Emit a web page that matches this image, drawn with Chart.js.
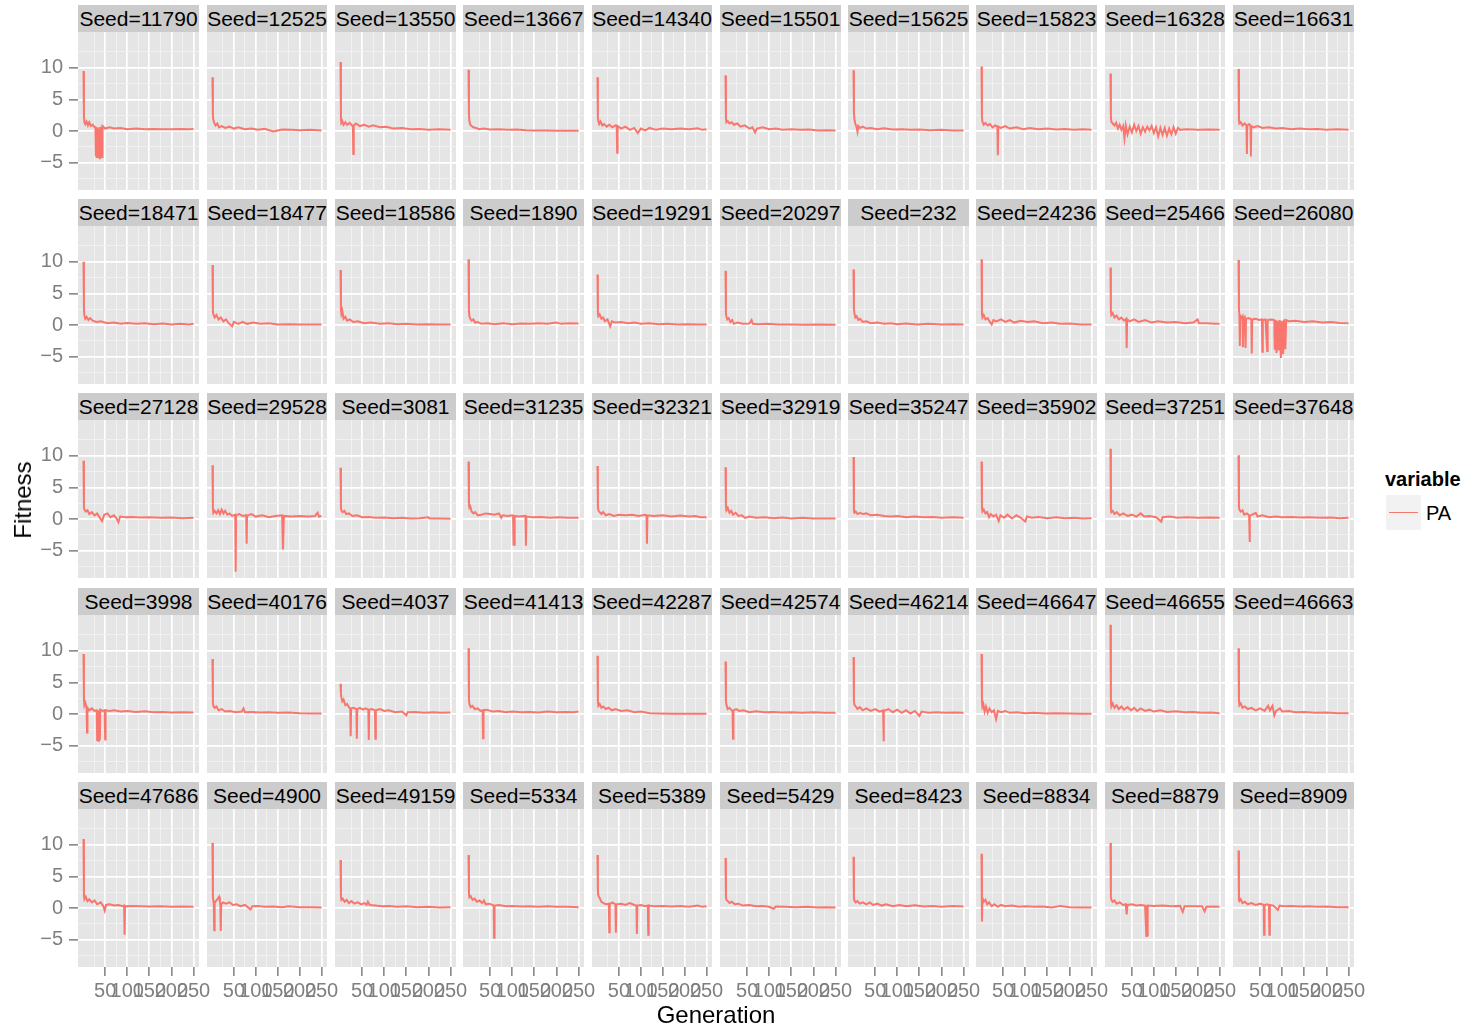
<!DOCTYPE html>
<html>
<head>
<meta charset="utf-8">
<script src="https://cdn.jsdelivr.net/npm/chart.js@4.4.1/dist/chart.umd.min.js"></script>
<style>
  body { margin: 0; background: #fff; font-family: 'Liberation Sans', Arial, sans-serif; }
  #plot { position: relative; width: 1470px; height: 1032px; overflow: hidden; }
  #plot canvas { position: absolute; }
  .strip { position: absolute; background: #cccccc; color: #000; font-size: 21px; text-align: center; white-space: nowrap; }
  .axis-title { position: absolute; font-size: 24px; color: #000; white-space: nowrap; }
</style>
</head>
<body>
<div id="plot"></div>
<script>
// Fitness per generation, one facet per seed
const seeds = [
  '11790', '12525', '13550', '13667', '14340', '15501', '15625', '15823', '16328', '16631',
  '18471', '18477', '18586', '1890', '19291', '20297', '232', '24236', '25466', '26080',
  '27128', '29528', '3081', '31235', '32321', '32919', '35247', '35902', '37251', '37648',
  '3998', '40176', '4037', '41413', '42287', '42574', '46214', '46647', '46655', '46663',
  '47686', '4900', '49159', '5334', '5389', '5429', '8423', '8834', '8879', '8909'
];

// [generation, PA, generation, PA, ...] for each seed, same order as seeds
const paTrace = [
  [1,9.5, 2,2.2, 3,1.4, 5,1.1, 8,1.5, 11,0.9, 14,1.4, 18,0.8, 22,1.0, 26,0.6, 28,0.6, 29,-4.0, 30,0.5, 31,-4.1, 32,-4.1, 33,0.6, 34,-4.0, 35,-4.1, 36,0.4, 37,-4.1, 38,-4.0, 39,0.7, 40,-4.1, 41,-4.0, 42,0.6, 43,-4.1, 44,0.8, 50,0.4, 60,0.6, 70,0.4, 85,0.5, 100,0.3, 120,0.4, 140,0.3, 160,0.35, 180,0.3, 200,0.3, 220,0.35, 240,0.3, 250,0.35],
  [1,8.5, 2,2.3, 3,1.8, 5,1.3, 8,0.9, 12,1.2, 16,0.6, 22,0.8, 30,0.5, 40,0.7, 50,0.4, 60,0.6, 75,0.3, 90,0.4, 105,0.2, 120,0.35, 140,-0.05, 160,0.25, 180,0.2, 200,0.15, 225,0.2, 250,0.1],
  [1,10.9, 2,2.0, 3,1.3, 5,1.6, 8,1.0, 12,1.4, 16,1.0, 22,1.3, 27,0.9, 29,0.9, 30,-3.6, 31,0.9, 36,1.2, 45,0.8, 55,1.0, 65,0.7, 75,0.9, 90,0.6, 105,0.7, 120,0.4, 140,0.5, 160,0.3, 180,0.35, 200,0.2, 225,0.3, 250,0.2],
  [1,9.7, 2,2.5, 3,1.6, 5,1.0, 8,0.8, 12,0.6, 18,0.5, 25,0.3, 35,0.4, 50,0.25, 70,0.3, 90,0.2, 110,0.25, 130,0.15, 150,0.1, 175,0.1, 200,0.05, 225,0.05, 250,0.05],
  [1,8.5, 2,2.0, 3,1.6, 5,1.1, 8,1.5, 12,0.9, 16,1.1, 22,0.7, 28,1.0, 35,0.6, 42,0.9, 45,0.8, 46,-3.4, 47,0.8, 55,0.4, 65,0.7, 75,0.2, 85,0.5, 93,-0.3, 100,0.4, 110,0.1, 120,0.5, 135,0.2, 150,0.4, 170,0.3, 190,0.4, 210,0.3, 230,0.45, 240,0.2, 250,0.3],
  [1,8.8, 2,2.0, 3,1.4, 6,1.6, 10,1.2, 15,1.4, 20,1.0, 28,1.2, 35,0.7, 45,0.9, 55,0.4, 62,0.6, 68,-0.2, 72,0.4, 85,0.6, 100,0.3, 115,0.4, 130,0.2, 150,0.3, 170,0.2, 190,0.25, 210,0.1, 230,0.15, 250,0.1],
  [1,9.6, 2,3.0, 3,1.9, 5,1.2, 8,0.6, 10,-0.1, 12,0.8, 16,0.5, 22,0.7, 30,0.4, 40,0.5, 55,0.3, 70,0.45, 90,0.25, 110,0.3, 130,0.2, 150,0.25, 175,0.15, 200,0.2, 225,0.1, 250,0.1],
  [1,10.2, 2,2.2, 3,1.5, 6,1.0, 10,1.3, 15,0.9, 20,1.1, 26,0.6, 32,0.9, 37,0.7, 38,-3.8, 39,0.7, 45,0.5, 55,0.8, 65,0.4, 80,0.6, 95,0.3, 110,0.5, 130,0.3, 150,0.4, 170,0.25, 190,0.35, 210,0.2, 230,0.3, 250,0.2],
  [1,9.1, 2,2.2, 3,1.5, 6,1.2, 10,0.9, 14,1.3, 18,0.4, 22,1.0, 26,0.2, 30,0.8, 33,-1.1, 36,0.9, 40,-0.5, 45,0.7, 50,-0.2, 55,1.0, 60,0.0, 65,0.8, 70,-0.4, 75,0.6, 80,-0.1, 85,0.7, 90,0.1, 95,0.8, 100,-0.3, 105,0.6, 110,-0.8, 115,0.5, 120,-0.6, 125,0.5, 130,-0.7, 135,0.4, 140,-0.5, 145,0.6, 150,-0.4, 155,0.5, 160,0.2, 175,0.3, 200,0.2, 225,0.25, 250,0.2],
  [1,9.8, 2,1.8, 3,1.2, 6,1.4, 10,0.9, 15,1.2, 19,0.9, 20,-3.6, 21,0.9, 25,1.1, 28,0.9, 29,-4.0, 30,0.8, 35,0.6, 45,0.8, 55,0.5, 70,0.6, 85,0.4, 100,0.5, 120,0.3, 140,0.4, 160,0.3, 180,0.35, 200,0.2, 225,0.3, 250,0.2],

  [1,10.0, 2,2.6, 3,1.5, 5,1.0, 8,1.3, 12,0.8, 16,1.1, 22,0.7, 30,0.5, 40,0.6, 55,0.3, 70,0.4, 85,0.2, 100,0.35, 120,0.2, 140,0.3, 160,0.15, 180,0.25, 200,0.1, 220,0.2, 240,0.1, 250,0.2],
  [1,9.5, 2,2.2, 3,1.7, 6,1.2, 10,1.6, 15,0.9, 20,1.2, 26,0.6, 32,0.9, 38,0.3, 46,-0.2, 50,0.5, 60,0.2, 70,0.5, 80,0.2, 95,0.4, 110,0.2, 130,0.3, 150,0.1, 175,0.15, 200,0.1, 225,0.1, 250,0.1],
  [1,8.7, 2,2.4, 3,1.8, 5,2.3, 8,1.0, 12,1.3, 16,0.7, 22,0.9, 30,0.5, 40,0.6, 55,0.3, 70,0.4, 90,0.2, 110,0.3, 130,0.15, 150,0.2, 175,0.1, 200,0.15, 225,0.1, 250,0.1],
  [1,10.4, 2,2.3, 3,1.4, 5,1.0, 8,0.7, 12,0.9, 16,0.4, 22,0.5, 30,0.2, 45,0.3, 60,0.15, 80,0.3, 100,0.15, 120,0.25, 140,0.2, 160,0.3, 180,0.2, 200,0.4, 210,0.2, 230,0.3, 250,0.25],
  [1,8.0, 2,1.8, 3,1.4, 6,1.7, 10,1.0, 14,1.2, 18,0.6, 24,0.9, 30,-0.2, 34,0.6, 42,0.4, 55,0.5, 70,0.3, 85,0.4, 100,0.2, 120,0.3, 140,0.15, 160,0.2, 185,0.1, 210,0.15, 230,0.1, 250,0.1],
  [1,8.6, 2,1.8, 3,1.4, 5,0.9, 8,1.1, 12,0.5, 16,0.8, 20,0.2, 28,0.4, 40,0.2, 55,0.25, 60,0.8, 63,0.2, 75,0.15, 95,0.2, 120,0.1, 150,0.1, 180,0.05, 210,0.1, 250,0.05],
  [1,8.8, 2,2.5, 3,1.9, 5,1.2, 8,1.4, 12,0.8, 16,1.0, 22,0.5, 30,0.6, 40,0.3, 55,0.4, 70,0.2, 85,0.3, 100,0.15, 120,0.25, 145,0.1, 170,0.2, 200,0.1, 225,0.15, 250,0.1],
  [1,10.4, 2,1.8, 3,1.2, 6,1.6, 10,0.9, 15,1.1, 20,0.5, 24,0.1, 28,0.8, 35,0.6, 45,0.9, 55,0.5, 65,0.8, 75,0.4, 90,0.7, 105,0.5, 120,0.6, 140,0.3, 160,0.4, 180,0.2, 200,0.25, 225,0.1, 250,0.1],
  [1,9.1, 2,2.2, 3,1.6, 6,1.9, 10,1.2, 15,1.5, 20,0.9, 26,1.2, 32,0.7, 37,1.0, 38,-3.6, 39,0.9, 45,0.6, 55,0.9, 65,0.5, 80,0.8, 95,0.4, 110,0.6, 130,0.4, 150,0.5, 170,0.3, 190,0.4, 200,0.9, 203,0.3, 220,0.3, 240,0.2, 250,0.2],
  [1,10.3, 2,2.5, 3,1.6, 4,-3.3, 5,1.5, 8,1.2, 10,1.4, 11,-3.5, 12,1.1, 15,1.3, 17,-3.6, 18,1.0, 24,1.1, 30,0.9, 31,-4.5, 32,0.9, 40,1.0, 48,0.8, 54,0.9, 55,-4.2, 56,0.8, 62,0.9, 66,-4.1, 67,0.8, 75,0.9, 82,0.8, 83,-3.9, 85,0.8, 87,-4.4, 89,0.7, 92,-4.0, 94,0.8, 97,-5.2, 99,0.7, 102,-4.6, 104,0.9, 107,-3.8, 109,0.8, 115,0.6, 130,0.7, 150,0.5, 170,0.6, 190,0.4, 210,0.5, 230,0.35, 250,0.3],

  [1,9.2, 2,1.8, 3,1.5, 6,1.2, 10,1.4, 14,0.8, 20,1.1, 26,0.6, 32,0.9, 38,0.2, 43,-0.3, 48,0.7, 55,0.9, 62,0.3, 70,0.6, 76,0.1, 80,-0.5, 84,0.4, 95,0.3, 110,0.35, 130,0.25, 150,0.3, 175,0.2, 200,0.25, 225,0.15, 250,0.2],
  [1,8.5, 2,1.8, 3,1.0, 6,1.3, 10,0.9, 14,1.4, 18,0.8, 22,1.5, 26,0.9, 30,1.3, 35,0.7, 40,0.9, 46,0.5, 53,0.7, 54,-8.3, 55,0.6, 62,0.8, 70,0.5, 78,0.6, 79,-3.9, 80,0.5, 90,0.8, 100,0.4, 115,0.6, 130,0.3, 145,0.5, 160,0.6, 162,-4.8, 164,0.5, 180,0.4, 200,0.5, 220,0.4, 235,0.5, 241,1.0, 244,0.4, 250,0.5],
  [1,8.1, 2,1.8, 3,1.4, 6,1.1, 10,1.3, 14,0.8, 20,0.9, 28,0.5, 38,0.6, 50,0.3, 65,0.35, 80,0.2, 100,0.25, 120,0.15, 140,0.2, 160,0.1, 180,0.15, 200,0.3, 203,0.1, 225,0.1, 250,0.05],
  [1,9.1, 2,2.3, 3,1.8, 5,2.0, 8,1.2, 12,0.9, 16,1.1, 22,0.6, 30,0.7, 40,0.9, 50,0.8, 60,0.7, 70,0.9, 75,0.2, 78,0.6, 90,0.5, 100,0.6, 102,0.5, 103,-4.2, 104,0.5, 105,-4.2, 106,0.5, 115,0.4, 130,0.5, 131,-4.2, 132,0.4, 145,0.3, 165,0.35, 185,0.2, 205,0.3, 225,0.2, 250,0.2],
  [1,8.4, 2,2.0, 3,1.4, 6,1.1, 10,0.8, 14,1.1, 20,0.6, 28,0.8, 38,0.5, 50,0.7, 65,0.6, 80,0.7, 95,0.5, 110,0.7, 113,0.6, 114,-3.9, 115,0.6, 130,0.5, 150,0.6, 170,0.4, 190,0.55, 210,0.4, 225,0.5, 235,0.3, 250,0.3],
  [1,8.2, 2,2.0, 3,1.4, 6,1.8, 10,1.0, 14,1.3, 18,0.7, 24,1.0, 30,0.5, 38,0.6, 45,0.2, 55,0.4, 70,0.2, 90,0.3, 110,0.15, 130,0.25, 150,0.1, 175,0.2, 200,0.1, 225,0.1, 250,0.1],
  [1,9.8, 2,1.2, 3,1.0, 6,1.2, 10,0.8, 16,1.0, 22,0.8, 30,0.9, 40,0.6, 55,0.7, 70,0.5, 85,0.4, 100,0.5, 120,0.3, 140,0.4, 160,0.3, 180,0.35, 200,0.2, 225,0.3, 250,0.2],
  [1,9.1, 2,1.8, 3,1.2, 6,1.5, 10,0.9, 14,1.1, 18,0.3, 22,0.8, 28,0.4, 34,0.7, 40,-0.3, 44,0.6, 52,0.2, 60,0.7, 70,0.1, 80,0.6, 90,0.2, 100,-0.4, 104,0.4, 115,0.2, 130,0.35, 150,0.15, 170,0.3, 190,0.15, 210,0.2, 230,0.1, 250,0.15],
  [1,11.1, 2,1.6, 3,1.1, 6,1.3, 10,0.8, 15,1.1, 22,0.6, 30,0.9, 40,0.5, 50,0.7, 60,0.4, 70,0.9, 78,0.4, 90,0.5, 105,0.3, 117,-0.4, 120,0.3, 135,0.4, 155,0.2, 175,0.3, 200,0.2, 225,0.25, 250,0.2],
  [1,10.1, 2,1.9, 3,1.5, 6,1.2, 10,1.4, 14,0.7, 20,0.9, 25,0.6, 26,-3.6, 27,0.5, 32,0.7, 40,1.0, 44,0.4, 55,0.6, 70,0.3, 85,0.4, 100,0.3, 120,0.35, 140,0.25, 160,0.3, 185,0.2, 210,0.25, 230,0.15, 250,0.2],

  [1,9.5, 2,2.3, 3,1.4, 5,1.8, 8,1.0, 9,-2.9, 10,1.0, 14,0.6, 20,0.9, 26,0.5, 31,0.6, 32,-4.1, 33,0.5, 35,-4.2, 36,0.6, 38,-4.1, 39,0.7, 44,0.5, 49,0.6, 50,-4.0, 51,0.6, 60,0.5, 70,0.6, 85,0.4, 100,0.5, 120,0.35, 140,0.45, 160,0.3, 180,0.35, 200,0.25, 225,0.3, 250,0.25],
  [1,8.7, 2,1.8, 3,1.3, 6,1.0, 10,1.2, 15,0.6, 22,0.8, 30,0.4, 40,0.5, 55,0.3, 68,0.4, 72,0.9, 75,0.3, 90,0.35, 110,0.25, 130,0.3, 150,0.2, 175,0.25, 200,0.15, 225,0.1, 250,0.1],
  [1,4.8, 2,3.2, 3,2.6, 5,2.0, 8,2.3, 12,1.4, 16,1.6, 20,1.1, 23,0.9, 24,-3.5, 25,0.9, 30,1.0, 37,0.8, 38,-3.9, 39,0.8, 45,1.0, 52,0.7, 58,0.9, 64,0.7, 65,-4.1, 66,0.7, 72,0.8, 79,0.6, 80,-3.9, 81,0.6, 90,0.8, 100,0.5, 110,0.6, 125,0.3, 140,0.4, 150,-0.2, 153,0.3, 170,0.35, 190,0.2, 210,0.3, 230,0.2, 250,0.25],
  [1,10.4, 2,2.3, 3,1.6, 6,1.1, 10,1.3, 15,0.8, 22,0.9, 28,0.5, 33,0.6, 34,-3.8, 35,0.6, 42,0.7, 55,0.4, 70,0.5, 85,0.3, 100,0.4, 120,0.3, 140,0.35, 160,0.25, 180,0.4, 200,0.3, 220,0.35, 240,0.3, 250,0.4],
  [1,9.2, 2,1.8, 3,1.3, 6,1.6, 10,1.0, 14,1.2, 20,0.8, 26,1.0, 34,0.6, 42,0.8, 55,0.5, 70,0.6, 85,0.3, 100,0.4, 120,0.15, 140,0.1, 170,0.05, 200,0.05, 225,0.05, 250,0.05],
  [1,8.3, 2,2.0, 3,1.5, 6,0.8, 10,1.0, 15,0.6, 17,0.5, 18,-3.9, 19,0.6, 25,0.8, 32,0.5, 42,0.6, 55,0.3, 70,0.45, 90,0.3, 110,0.35, 130,0.25, 150,0.3, 175,0.2, 200,0.3, 225,0.2, 250,0.2],
  [1,9.0, 2,2.0, 3,1.5, 6,1.2, 10,0.8, 15,1.1, 22,0.6, 30,0.9, 40,0.5, 50,0.8, 60,0.4, 68,0.6, 69,-4.3, 70,0.5, 80,0.8, 90,0.3, 100,0.7, 110,0.2, 120,0.6, 130,0.1, 140,0.5, 150,-0.3, 155,0.4, 170,0.2, 190,0.3, 210,0.2, 230,0.25, 250,0.2],
  [1,9.5, 2,2.0, 3,1.2, 5,1.6, 8,0.4, 11,1.2, 15,0.2, 19,0.9, 24,0.3, 29,0.6, 34,-0.8, 38,0.5, 45,0.3, 55,0.5, 65,0.2, 80,0.3, 100,0.15, 120,0.2, 145,0.1, 170,0.15, 200,0.1, 225,0.05, 250,0.05],
  [1,14.1, 2,1.8, 3,1.2, 6,1.7, 10,1.0, 15,1.4, 20,0.8, 26,1.2, 32,0.7, 40,1.1, 48,0.6, 55,1.0, 62,0.5, 70,0.9, 80,0.5, 90,0.7, 100,0.4, 115,0.6, 130,0.35, 150,0.45, 170,0.3, 190,0.35, 210,0.2, 230,0.25, 250,0.15],
  [1,10.4, 2,2.1, 3,1.4, 6,1.7, 10,1.0, 15,1.2, 22,0.8, 30,1.0, 40,0.6, 50,0.9, 60,0.5, 68,1.3, 72,0.6, 78,1.3, 82,-0.2, 86,0.5, 95,0.9, 100,0.4, 115,0.5, 130,0.3, 150,0.35, 175,0.2, 200,0.25, 225,0.15, 250,0.15],

  [1,10.9, 2,2.0, 3,1.4, 6,1.8, 10,1.1, 14,1.4, 20,0.9, 26,1.2, 32,0.6, 40,0.9, 46,0.3, 49,-0.4, 52,0.5, 60,0.6, 70,0.4, 80,0.5, 90,0.3, 93,0.4, 94,-4.2, 95,0.3, 110,0.35, 130,0.3, 150,0.25, 175,0.3, 200,0.2, 225,0.25, 250,0.2],
  [1,10.3, 2,1.6, 3,1.2, 4,0.8, 5,-3.5, 6,0.8, 10,1.2, 14,1.6, 16,1.8, 18,1.0, 19,0.6, 20,-3.6, 21,0.6, 25,0.9, 32,0.7, 40,0.9, 48,0.5, 56,0.6, 65,0.3, 75,0.5, 88,-0.2, 92,0.3, 105,0.35, 120,0.2, 140,0.25, 160,0.15, 175,0.3, 200,0.15, 225,0.15, 250,0.1],
  [1,7.6, 2,1.8, 3,1.3, 6,1.5, 10,1.0, 15,1.3, 20,0.8, 26,1.1, 32,0.7, 40,0.9, 48,0.6, 55,0.8, 60,0.5, 63,1.0, 67,0.5, 80,0.4, 95,0.3, 110,0.35, 130,0.2, 150,0.3, 175,0.15, 200,0.2, 225,0.1, 250,0.15],
  [1,8.4, 2,2.3, 3,1.7, 6,1.9, 10,1.3, 15,1.5, 20,1.0, 26,1.2, 32,0.8, 36,1.2, 40,0.6, 48,0.7, 55,0.5, 58,0.4, 59,-4.7, 60,0.4, 70,0.5, 85,0.3, 100,0.35, 120,0.25, 140,0.3, 160,0.2, 180,0.3, 200,0.2, 225,0.2, 250,0.15],
  [1,8.4, 2,2.6, 3,2.0, 6,1.6, 10,1.0, 15,0.8, 20,0.6, 27,0.7, 28,-3.8, 29,0.6, 35,0.9, 42,0.6, 43,-3.9, 44,0.6, 55,0.7, 65,0.5, 75,0.8, 85,0.5, 90,0.4, 91,-4.1, 92,0.4, 100,0.5, 110,0.3, 116,0.4, 117,-4.2, 118,0.4, 130,0.3, 150,0.35, 170,0.25, 190,0.35, 210,0.2, 230,0.4, 240,0.2, 250,0.3],
  [1,7.9, 2,1.8, 3,1.3, 6,1.1, 10,0.8, 15,1.0, 22,0.6, 30,0.7, 40,0.4, 55,0.5, 70,0.3, 85,0.35, 100,0.2, 110,-0.1, 115,0.25, 135,0.2, 160,0.15, 185,0.2, 210,0.1, 230,0.15, 250,0.1],
  [1,8.1, 2,1.5, 3,1.2, 6,0.9, 10,1.1, 15,0.7, 22,0.9, 30,0.6, 38,0.9, 45,0.5, 55,0.7, 65,0.4, 75,0.6, 90,0.3, 105,0.5, 120,0.3, 140,0.45, 160,0.25, 180,0.35, 200,0.2, 225,0.35, 250,0.25],
  [1,8.6, 2,-2.1, 3,1.6, 6,1.0, 10,1.3, 14,0.6, 18,0.9, 24,0.3, 30,0.6, 38,0.2, 45,0.5, 55,0.3, 70,0.4, 85,0.2, 100,0.3, 120,0.2, 140,0.25, 160,0.1, 180,0.35, 200,0.15, 225,0.1, 250,0.1],
  [1,10.3, 2,1.8, 3,1.3, 6,1.0, 10,1.2, 15,0.7, 22,0.9, 30,0.5, 36,0.6, 38,-1.0, 40,0.5, 50,0.6, 60,0.4, 70,0.5, 80,0.4, 82,0.4, 83,-4.4, 84,0.4, 85,-4.3, 86,0.4, 100,0.35, 120,0.4, 140,0.3, 160,0.35, 166,-0.6, 170,0.3, 190,0.3, 210,0.3, 216,-0.5, 220,0.2, 235,0.25, 250,0.2],
  [1,9.1, 2,1.3, 3,1.1, 6,1.4, 10,0.8, 15,1.0, 22,0.6, 30,0.8, 40,0.5, 50,0.7, 58,0.5, 59,-4.2, 60,0.5, 65,0.6, 70,0.5, 71,-4.2, 72,0.5, 80,0.4, 90,-0.3, 94,0.4, 105,0.3, 120,0.35, 140,0.25, 160,0.3, 180,0.2, 200,0.25, 225,0.15, 250,0.15]
];

// axis breaks (major get labels, minor only a light grid line)
const xMajor = [50, 100, 150, 200, 250];
const xMinor = [25, 75, 125, 175, 225];
const yMajor = [-5, 0, 5, 10];
const yMinor = [-7.5, -2.5, 2.5, 7.5, 12.5];
const xLimits = [-11.45, 262.45];
const yLimits = [-9.3, 15.65];

const NCOL = 10;
const PANEL_X0 = 78.3, PITCH_X = 128.3, PANEL_W = 120.7;
const PANEL_Y0 = 31.5, PITCH_Y = 194.45, PANEL_H = 158;
const STRIP_H = 27;
const AXIS_L = 50, AXIS_B = 44, PAD_R = 24;

const LINE = '#F8766D';
const PANEL_BG = '#e5e5e5';
const GRID_MAJOR = '#ffffff';
const GRID_MINOR = '#f2f2f2';
const TICK = '#7f7f7f';
const FONT = "'Liberation Sans', Arial, sans-serif";

const panelBg = {
  id: 'panelBg',
  beforeDraw(chart) {
    const a = chart.chartArea;
    const ctx = chart.ctx;
    ctx.save();
    ctx.fillStyle = PANEL_BG;
    ctx.fillRect(a.left, a.top, a.right - a.left, a.bottom - a.top);
    ctx.restore();
  }
};

function toPoints(flat) {
  const pts = [];
  for (let k = 0; k < flat.length; k += 2) pts.push({ x: flat[k], y: flat[k + 1] });
  return pts;
}

function fmt(v) {
  return v < 0 ? '\u2212' + Math.abs(v) : String(v);
}

function gridOpts(major, showTicks) {
  const isMajor = ctx => ctx.tick && major.includes(ctx.tick.value);
  return {
    color: ctx => isMajor(ctx) ? GRID_MAJOR : GRID_MINOR,
    lineWidth: ctx => isMajor(ctx) ? 1.7 : 0.9,
    drawTicks: showTicks,
    tickLength: 9,
    tickWidth: 1.5,
    tickColor: ctx => isMajor(ctx) ? TICK : 'rgba(0,0,0,0)'
  };
}

// scale label overhang would shrink the panel, so drop it
function noPad(s) {
  s.paddingLeft = 0;
  s.paddingRight = 0;
  s.paddingTop = 0;
  s.paddingBottom = 0;
}

const plot = document.getElementById('plot');

seeds.forEach((seed, i) => {
  const r = Math.floor(i / NCOL), c = i % NCOL;
  const x0 = Math.round(PANEL_X0 + c * PITCH_X);
  const x1 = Math.round(PANEL_X0 + c * PITCH_X + PANEL_W);
  const y0 = Math.round(PANEL_Y0 + r * PITCH_Y);
  const y1 = Math.round(PANEL_Y0 + r * PITCH_Y + PANEL_H);
  const showY = c === 0;
  const showX = r === Math.floor((seeds.length - 1) / NCOL);
  const extL = showY ? AXIS_L : 0;
  const extB = showX ? AXIS_B : 0;
  const extR = showX ? PAD_R : 0;

  // facet strip
  const strip = document.createElement('div');
  strip.className = 'strip';
  strip.style.left = x0 + 'px';
  strip.style.top = (y0 - STRIP_H) + 'px';
  strip.style.width = (x1 - x0) + 'px';
  strip.style.height = STRIP_H + 'px';
  strip.style.lineHeight = STRIP_H + 'px';
  strip.textContent = 'Seed=' + seed;
  plot.appendChild(strip);

  const canvas = document.createElement('canvas');
  const w = (x1 - x0) + extL + extR, h = (y1 - y0) + extB;
  canvas.width = w;
  canvas.height = h;
  canvas.style.left = (x0 - extL) + 'px';
  canvas.style.top = y0 + 'px';
  canvas.style.width = w + 'px';
  canvas.style.height = h + 'px';
  plot.appendChild(canvas);

  new Chart(canvas, {
    type: 'line',
    data: {
      datasets: [{
        label: 'PA',
        data: toPoints(paTrace[i]),
        borderColor: LINE,
        borderWidth: 2,
        pointRadius: 0,
        tension: 0,
        fill: false
      }]
    },
    options: {
      responsive: false,
      devicePixelRatio: 1,
      animation: false,
      events: [],
      layout: { autoPadding: false, padding: { left: 0, top: 0, right: extR, bottom: 0 } },
      plugins: { legend: { display: false }, tooltip: { enabled: false } },
      scales: {
        x: {
          type: 'linear',
          min: xLimits[0],
          max: xLimits[1],
          afterBuildTicks: s => { s.ticks = xMinor.concat(xMajor).sort((a, b) => a - b).map(v => ({ value: v })); },
          afterFit: s => { s.height = extB; noPad(s); },
          border: { display: false },
          grid: gridOpts(xMajor, showX),
          ticks: {
            display: showX,
            autoSkip: false,
            maxRotation: 0,
            minRotation: 0,
            padding: 3,
            color: TICK,
            font: { family: FONT, size: 20 },
            callback: v => xMajor.includes(v) ? fmt(v) : ''
          }
        },
        y: {
          type: 'linear',
          min: yLimits[0],
          max: yLimits[1],
          afterBuildTicks: s => { s.ticks = yMinor.concat(yMajor).sort((a, b) => a - b).map(v => ({ value: v })); },
          afterFit: s => { s.width = extL; noPad(s); },
          border: { display: false },
          grid: gridOpts(yMajor, showY),
          ticks: {
            display: showY,
            autoSkip: false,
            padding: 6,
            color: TICK,
            font: { family: FONT, size: 20 },
            callback: v => yMajor.includes(v) ? fmt(v) : ''
          }
        }
      }
    },
    plugins: [panelBg]
  });
});

// axis titles
const xTitle = document.createElement('div');
xTitle.className = 'axis-title';
xTitle.textContent = 'Generation';
xTitle.style.left = '716px';
xTitle.style.top = '1015px';
xTitle.style.transform = 'translate(-50%, -50%)';
plot.appendChild(xTitle);

const yTitle = document.createElement('div');
yTitle.className = 'axis-title';
yTitle.textContent = 'Fitness';
yTitle.style.left = '23px';
yTitle.style.top = '500px';
yTitle.style.transform = 'translate(-50%, -50%) rotate(-90deg)';
plot.appendChild(yTitle);

// legend
const legTitle = document.createElement('div');
legTitle.className = 'axis-title';
legTitle.textContent = 'variable';
legTitle.style.cssText += 'left:1385px;top:467px;font-size:20px;font-weight:bold;line-height:24px;';
plot.appendChild(legTitle);

const key = document.createElement('div');
key.style.cssText = 'position:absolute;left:1386px;top:495px;width:35px;height:35px;background:#f2f2f2;';
const keyLine = document.createElement('div');
keyLine.style.cssText = 'position:absolute;left:3px;top:16.5px;width:29px;height:1.6px;background:' + LINE + ';';
key.appendChild(keyLine);
plot.appendChild(key);

const legLabel = document.createElement('div');
legLabel.className = 'axis-title';
legLabel.textContent = 'PA';
legLabel.style.cssText += 'left:1426px;top:500px;font-size:20px;line-height:26px;';
plot.appendChild(legLabel);
</script>
</body>
</html>
